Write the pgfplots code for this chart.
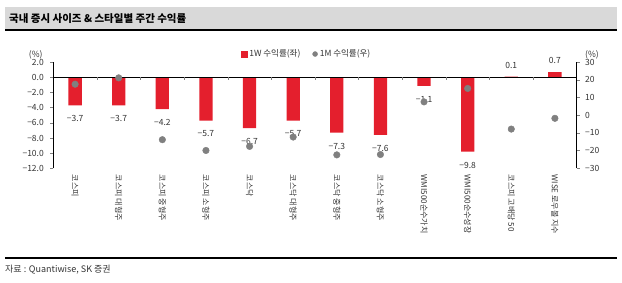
\documentclass[border=0pt]{standalone}
\usepackage{fontspec}
\setmainfont{Noto Sans CJK KR}
\usepackage{pgfplots}
\pgfplotsset{compat=1.18}
\definecolor{barred}{HTML}{E41F2D}
\definecolor{dotgray}{HTML}{808080}
\definecolor{txt}{HTML}{333333}
\definecolor{titlegray}{HTML}{D9D9D9}
\begin{document}
\begin{tikzpicture}
\path[use as bounding box] (0pt,0pt) rectangle (622pt,282pt);
\fill[titlegray] (5pt,252.7pt) rectangle (616.7pt,274.7pt);
\draw[line width=2pt] (5pt,251.7pt) -- (616.7pt,251.7pt);
\node[anchor=west, font=\fontsize{10.5}{12}\selectfont\bfseries, inner sep=0pt] at (9pt,263.5pt) {국내 증시 사이즈 \& 스타일별 주간 수익률};
\draw[line width=2pt] (5pt,24pt) -- (616.7pt,24pt);
\node[anchor=west, font=\fontsize{9}{10}\selectfont, text=txt, inner sep=0pt] at (5pt,12pt) {자료 : Quantiwise, SK 증권};
\node[font=\fontsize{8.5}{9}\selectfont, text=txt] at (35.7pt,227.5pt) {(\%)};
\node[font=\fontsize{8.5}{9}\selectfont, text=txt] at (592pt,227.5pt) {(\%)};
\begin{axis}[at={(53.3pt,113.7pt)}, anchor=south west, scale only axis,
  width=523.4pt, height=106pt, xmin=-0.5, xmax=11.5, ymin=-12, ymax=2,
  axis y line*=left, axis x line=none,
  ytick={-12,-10,...,2},
  yticklabels={−12.0,−10.0,−8.0,−6.0,−4.0,−2.0,0.0,2.0},
  tick align=outside, major tick length=3pt,
  y axis line style={line width=0.6pt},
  ytick style={line width=0.6pt},
  yticklabel style={font=\fontsize{8.5}{9}\selectfont, text=txt, xshift=-3pt},
  clip=false]
\addplot[ybar, bar width=13.3pt, fill=barred, draw=none]
  coordinates {(0,-3.7) (1,-3.7) (2,-4.2) (3,-5.7) (4,-6.7) (5,-5.7)
  (6,-7.3) (7,-7.6) (8,-1.1) (9,-9.8) (10,0.1) (11,0.7)};
\addplot[draw=none, mark=none, nodes near coords, point meta=explicit symbolic,
  nodes near coords align={anchor=north},
  every node near coord/.append style={font=\fontsize{8.5}{9}\selectfont, text=txt, inner sep=1pt, yshift=-9pt}]
  coordinates {(0,-3.7)[−3.7] (1,-3.7)[−3.7] (2,-4.2)[−4.2] (3,-5.7)[−5.7]
  (4,-6.7)[−6.7] (5,-5.7)[−5.7] (6,-7.3)[−7.3] (7,-7.6)[−7.6]
  (8,-1.1)[−1.1] (9,-9.8)[−9.8]};
\addplot[draw=none, mark=none, nodes near coords, point meta=explicit symbolic,
  nodes near coords align={anchor=south},
  every node near coord/.append style={font=\fontsize{8.5}{9}\selectfont, text=txt, inner sep=1pt, yshift=7pt}]
  coordinates {(10,0.1)[0.1] (11,0.7)[0.7]};
\draw[line width=0.7pt] (axis cs:-0.5,0) -- (axis cs:11.5,0);
\pgfplotsinvokeforeach{0.5,1.5,...,10.5}{\draw[gray, line width=0.5pt] (axis cs:#1,0) -- ([yshift=-3pt]axis cs:#1,0);}
\end{axis}
\begin{axis}[at={(53.3pt,113.7pt)}, anchor=south west, scale only axis,
  width=523.4pt, height=106pt, xmin=-0.5, xmax=11.5, ymin=-30, ymax=30,
  axis y line*=right, axis x line*=bottom,
  x axis line style={draw=none}, xtick style={draw=none},
  xtick={0,...,11},
  xticklabels={코스피, 코스피 대형주, 코스피 중형주, 코스피 소형주, 코스닥, 코스닥 대형주, 코스닥 중형주, 코스닥 소형주, WMI500순수가치, WMI500순수성장, 코스피 고배당 50, WISE 로우볼 지수},
  xticklabel style={rotate=-90, anchor=west, font=\fontsize{8}{9}\selectfont, text=txt},
  ytick={-30,-20,...,30},
  yticklabels={−30,−20,−10,0,10,20,30},
  tick align=outside, major tick length=3pt,
  y axis line style={line width=0.6pt},
  ytick style={line width=0.6pt},
  yticklabel style={font=\fontsize{8.5}{9}\selectfont, text=txt, xshift=2pt},
  legend style={at={(0.484,1.078)}, anchor=center, draw=none, fill=none,
    font=\fontsize{8.5}{9}\selectfont, text=txt, legend columns=2,
    /tikz/every even column/.append style={column sep=10pt}},
  clip=false]
\addlegendimage{legend image code/.code={\fill[barred] (0pt,-3pt) rectangle (6pt,3pt);}}
\addlegendentry{1W 수익률(좌)}
\addplot[only marks, mark=*, mark size=3.3pt, color=dotgray,
  legend image code/.code={\fill[dotgray] (3pt,0pt) circle (2.5pt);}]
  coordinates {(0,17.6) (1,21.2) (2,-13.8) (3,-19.9) (4,-17.6) (5,-12.3)
  (6,-22.4) (7,-22.2) (8,7.6) (9,15.2) (10,-7.8) (11,-1.7)};
\addlegendentry{1M 수익률(우)}
\end{axis}
\end{tikzpicture}
\end{document}
